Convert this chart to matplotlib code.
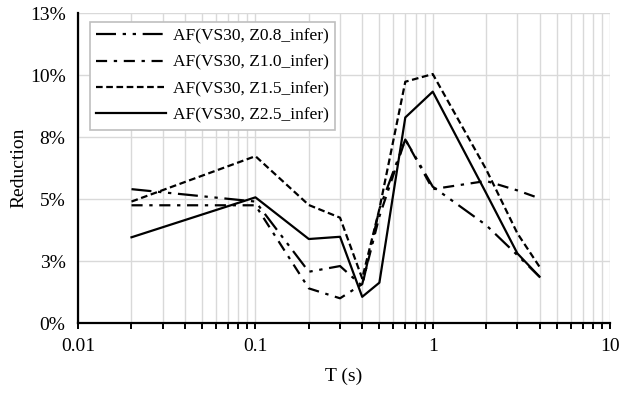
import matplotlib.pyplot as plt
from matplotlib.ticker import FixedLocator, LogLocator, NullFormatter

# Periods (s) and reduction values (%) for each basin-depth case
periods = [0.02, 0.1, 0.2, 0.3, 0.4, 0.5, 0.7, 1, 2, 3, 4]
z08 = [5.4, 4.9, 2.07, 2.3, 1.5, 4.6, 7.4, 5.5, 3.95, 2.74, 1.87]
z10 = [4.75, 4.75, 1.4, 1.0, 1.57, 4.3, 7.4, 5.4, 5.73, 5.35, 5.03]
z15 = [4.9, 6.73, 4.76, 4.25, 1.8, 4.6, 9.73, 10.04, 6.2, 3.62, 2.27]
z25 = [3.46, 5.07, 3.39, 3.48, 1.06, 1.63, 8.29, 9.33, 5.24, 2.81, 1.87]

labels = ["AF(VS30, Z0.8_infer)", "AF(VS30, Z1.0_infer)",
          "AF(VS30, Z1.5_infer)", "AF(VS30, Z2.5_infer)"]

y_ticks = [0, 2.5, 5, 7.5, 10, 12.5]
y_tick_labels = ["0%", "3%", "5%", "8%", "10%", "13%"]
x_ticks = [0.01, 0.1, 1, 10]
x_tick_labels = ["0.01", "0.1", "1", "10"]

plt.rcParams["font.family"] = ["Liberation Serif", "DejaVu Serif"]

fig = plt.figure(figsize=(6.2, 3.95), dpi=100)
ax = fig.add_axes([0.126, 0.182, 0.858, 0.785])

styles = [
    dict(linestyle=(0, (9, 3, 1.5, 3, 1.5, 3))),
    dict(linestyle=(0, (5, 3, 1.5, 3))),
    dict(linestyle=(0, (3, 1.6))),
    dict(linestyle="-"),
]
for vals, lab, st in zip([z08, z10, z15, z25], labels, styles):
    ax.plot(periods, vals, color="black", lw=1.6, label=lab, **st)

ax.set_xscale("log")
ax.set_xlim(0.01, 10)
ax.set_ylim(0, 12.5)

ax.xaxis.set_major_locator(FixedLocator(x_ticks))
ax.set_xticklabels(x_tick_labels)
ax.xaxis.set_minor_locator(LogLocator(base=10, subs=range(2, 10)))
ax.xaxis.set_minor_formatter(NullFormatter())
ax.set_yticks(y_ticks)
ax.set_yticklabels(y_tick_labels)

ax.grid(True, which="both", axis="x", color="#d9d9d9", lw=1)
ax.grid(True, which="major", axis="y", color="#d9d9d9", lw=1)
ax.set_axisbelow(True)

for side in ["top", "right"]:
    ax.spines[side].set_visible(False)
for side in ["left", "bottom"]:
    ax.spines[side].set_linewidth(1.6)

ax.tick_params(axis="x", which="both", direction="out", length=4, width=1.4,
               labelsize=14, pad=7)
ax.tick_params(axis="y", length=0, labelsize=14, pad=9)

ax.set_xlabel("T (s)", fontsize=14, labelpad=9)
ax.set_ylabel("Reduction", fontsize=14, labelpad=2)

leg = ax.legend(loc="upper left", bbox_to_anchor=(0.0226, 0.971), fontsize=12.5,
                borderaxespad=0, handlelength=4.0, handletextpad=0.45,
                labelspacing=0.59, borderpad=0.35,
                fancybox=False, framealpha=1, edgecolor="#bfbfbf")
leg.get_frame().set_linewidth(1.2)

fig.savefig("out.png", dpi=100)
